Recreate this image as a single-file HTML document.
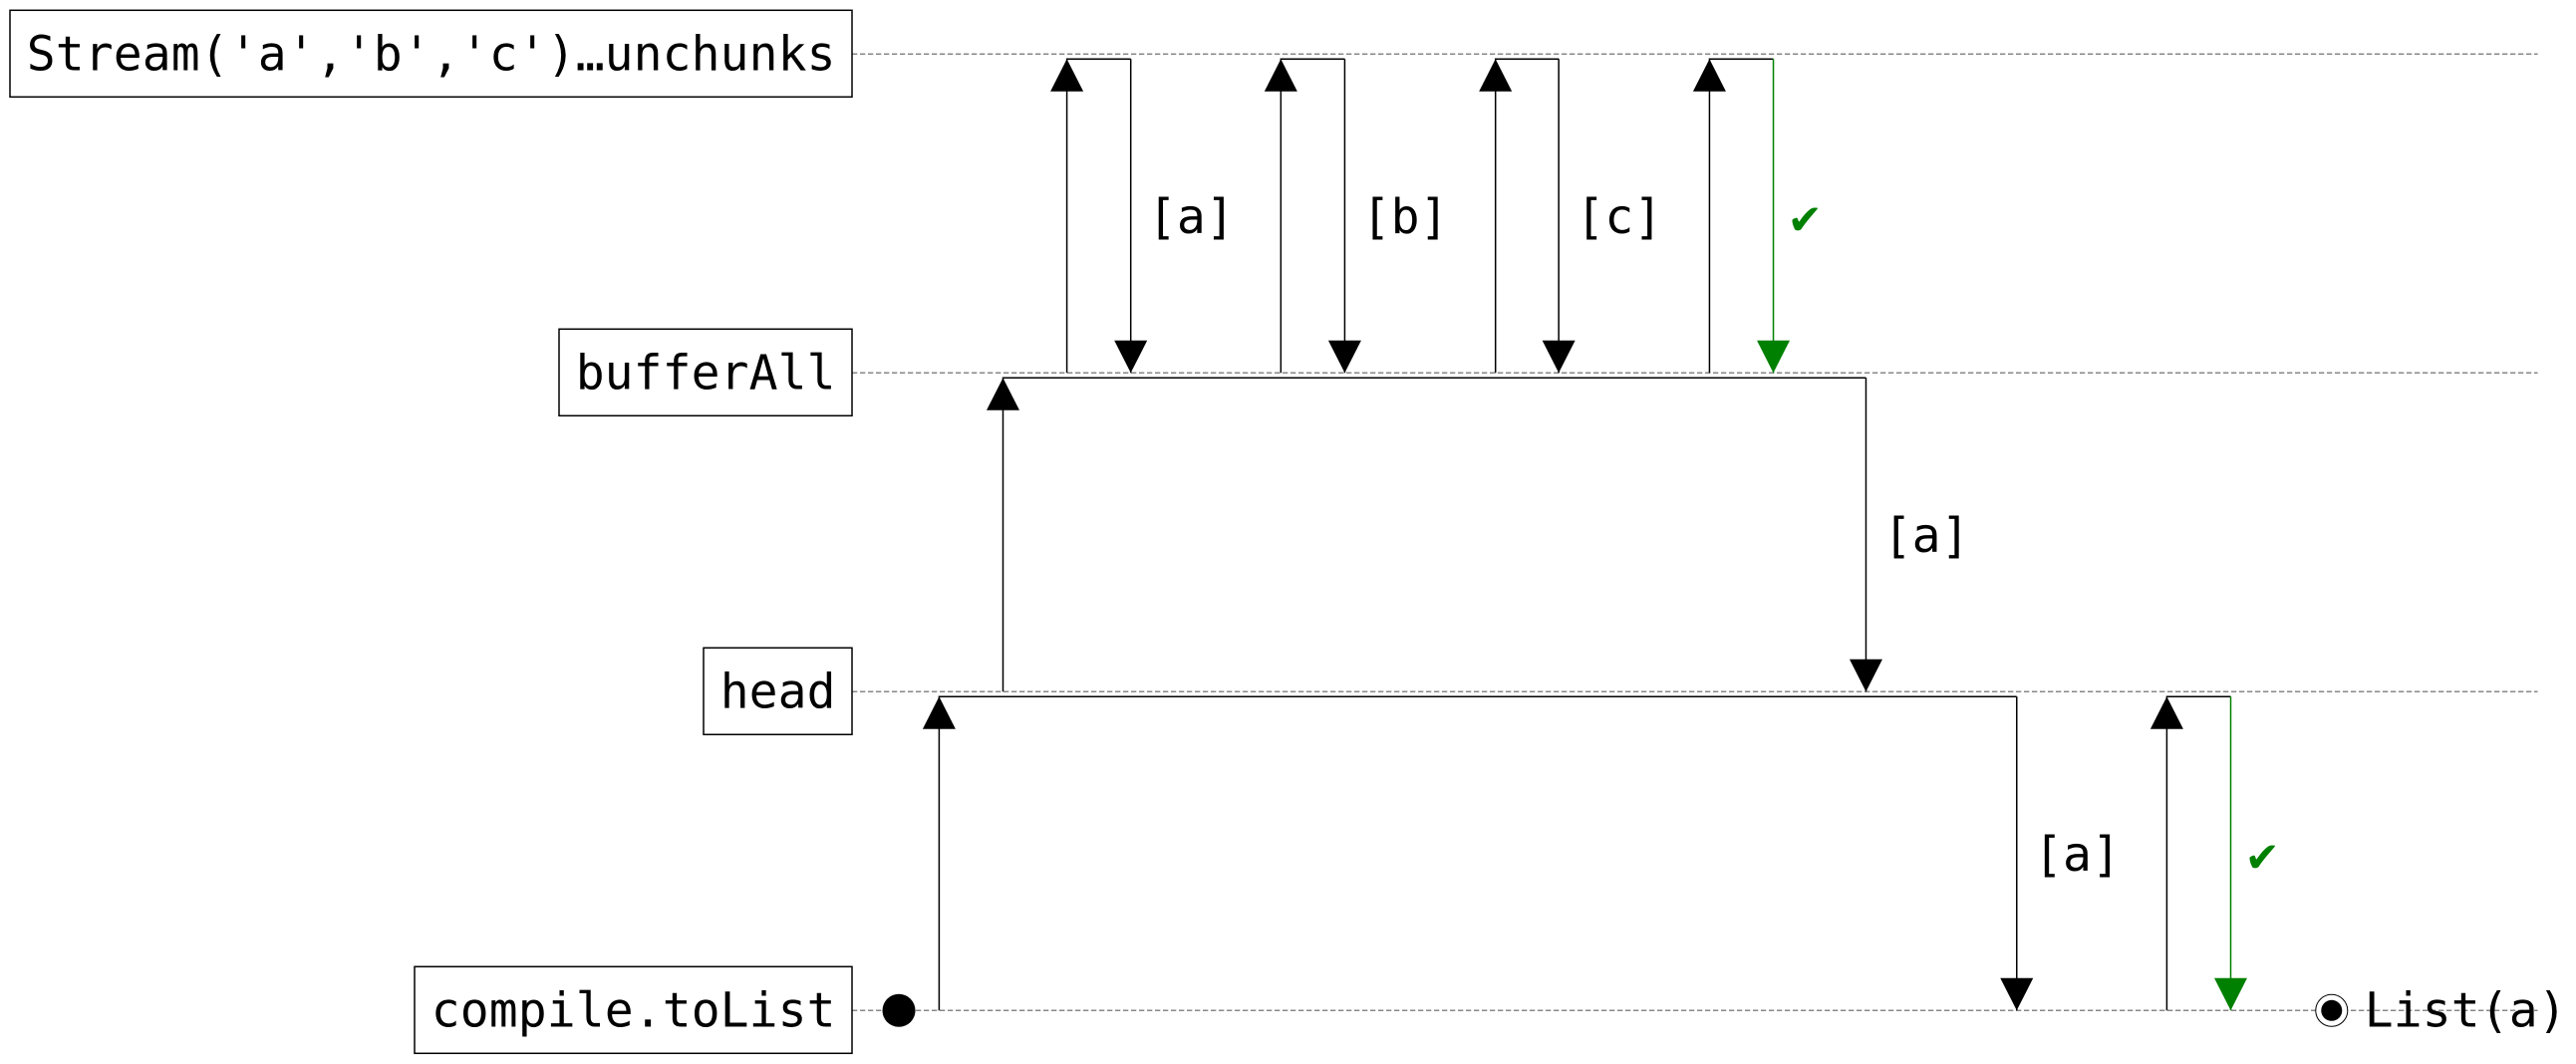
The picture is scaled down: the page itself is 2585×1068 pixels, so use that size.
<!DOCTYPE html>
<html lang="en">
<head>
<meta charset="utf-8">
<title>bufferAll sequence diagram</title>
<style>
  html, body { margin: 0; padding: 0; background: #fff; }
  svg { display: block; }
  text { font-family: "DejaVu Sans Mono", "Liberation Mono", monospace; font-size: 48px; letter-spacing: 0.1px; }
</style>
</head>
<body>
<svg id="chart" xmlns="http://www.w3.org/2000/svg" width="2585" height="1068" viewBox="0 0 2585 1068">
  <rect width="2585" height="1068" fill="#fff"/>
</svg>
<script>
const stages = ["Stream('a','b','c')…unchunks", "bufferAll", "head", "compile.toList"];
const upTimes = [0, 1, 2, 5.35, 8.71, 12.06, 19.22];
const downTimes = [16.87, 14.51, 3, 6.35, 9.7, 13.06, 20.22];
const fromLanes = [3, 2, 1, 1, 1, 1, 3];
const toLanes = [2, 1, 0, 0, 0, 0, 2];
const messages = ["[a]", "[a]", "[a]", "[b]", "[c]", "✔", "✔"];
const colors = ["#000", "#000", "#000", "#000", "#000", "#008000", "#008000"];
const startTime = -0.63;
const endTime = 21.8;
const resultLabel = "List(a)";

const NS = 'http://www.w3.org/2000/svg';
const svg = document.getElementById('chart');
const xScale = t => 942.4 + t * 64.1;
const yLane = i => 54.3 + i * 320;

function add(tag, attrs, text) {
  const el = document.createElementNS(NS, tag);
  for (const k in attrs) el.setAttribute(k, attrs[k]);
  if (text !== undefined) el.textContent = text;
  svg.appendChild(el);
  return el;
}

stages.forEach((name, i) => {
  const y = yLane(i);
  const boxWidth = Array.from(name).length * 29 + 33;
  const lane = add('line', {x1: 855, x2: 2546.6, y1: y, y2: y, stroke: '#888', 'stroke-width': 1.5, 'stroke-dasharray': '5.3 2.7'});
  
  
  const box = add('rect', {x: 855 - boxWidth, y: y - 44, width: boxWidth, height: 87, fill: '#fff', stroke: '#000', 'stroke-width': 1.5});
  
  
  const label = add('text', {x: 838.7, y: y + 16.4, 'text-anchor': 'end', fill: '#000'}, name);
  
  
});

const HW = 16.5, HH = 32.5, GAP = 5;
upTimes.forEach((t, i) => {
  const xu = xScale(t), xd = xScale(downTimes[i]);
  const yb = yLane(fromLanes[i]), yt = yLane(toLanes[i]) + GAP;
  const c = colors[i];
  const up = add('path', {d: `M${xu} ${yb}V${yt}H${xd}`, fill: 'none', stroke: '#000', 'stroke-width': 1.5});
  
  
  const upHead = add('polygon', {points: `${xu},${yt} ${xu - HW},${yt + HH} ${xu + HW},${yt + HH}`, fill: '#000'});
  
  
  const down = add('line', {x1: xd, x2: xd, y1: yt, y2: yb, stroke: c, 'stroke-width': 1.5});
  
  
  const downHead = add('polygon', {points: `${xd},${yb} ${xd - HW},${yb - HH} ${xd + HW},${yb - HH}`, fill: c});
  
  
  const msg = add('text', {x: xd + 17.2, y: (yt + yb) / 2 + 17, fill: c}, messages[i]);
  
  
});

const yEnd = yLane(stages.length - 1);
const startDot = add('circle', {cx: xScale(startTime), cy: yEnd, r: 16.5, fill: '#000'});


const endOuter = add('circle', {cx: xScale(endTime), cy: yEnd, r: 16, fill: '#fff', stroke: '#000', 'stroke-width': 1});


const endInner = add('circle', {cx: xScale(endTime), cy: yEnd, r: 10.5, fill: '#000'});


const result = add('text', {x: xScale(endTime) + 33, y: yEnd + 16.4, fill: '#000'}, resultLabel);


</script>
</body>
</html>
